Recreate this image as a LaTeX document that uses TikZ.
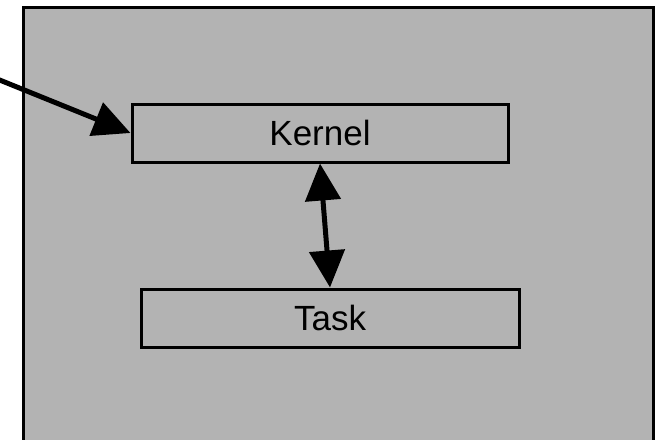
\documentclass[tikz,border=0pt]{standalone}
\usepackage{fontspec}
\setmainfont{Liberation Sans}
\usetikzlibrary{arrows.meta}
\definecolor{boxgray}{RGB}{179,179,179}
\tikzset{
  unit/.style={draw, line width=3pt, inner sep=0pt, minimum height=58pt,
    font=\fontsize{35}{42}\selectfont},
  bigarrow/.style={line width=5pt, {Triangle[length=37pt,width=35pt]}-{Triangle[length=37pt,width=35pt]}},
}
\begin{document}
\begin{tikzpicture}[x=1pt,y=-1pt]
  \clip (0,0) rectangle (655,439);
  \draw[line width=3pt, fill=boxgray] (23,7.5) rectangle (653.5,470);
  \node[unit, minimum width=376pt] (kernel) at (320,133) {Kernel};
  \node[unit, minimum width=378pt] (task) at (330,318) {Task};
  \coordinate (outside) at (-30,68);
  \draw[line width=5pt, -{Triangle[length=37pt,width=35pt]}] (outside) -- (kernel.west);
  \draw[bigarrow] (kernel.south) -- (task.north);
\end{tikzpicture}
\end{document}
